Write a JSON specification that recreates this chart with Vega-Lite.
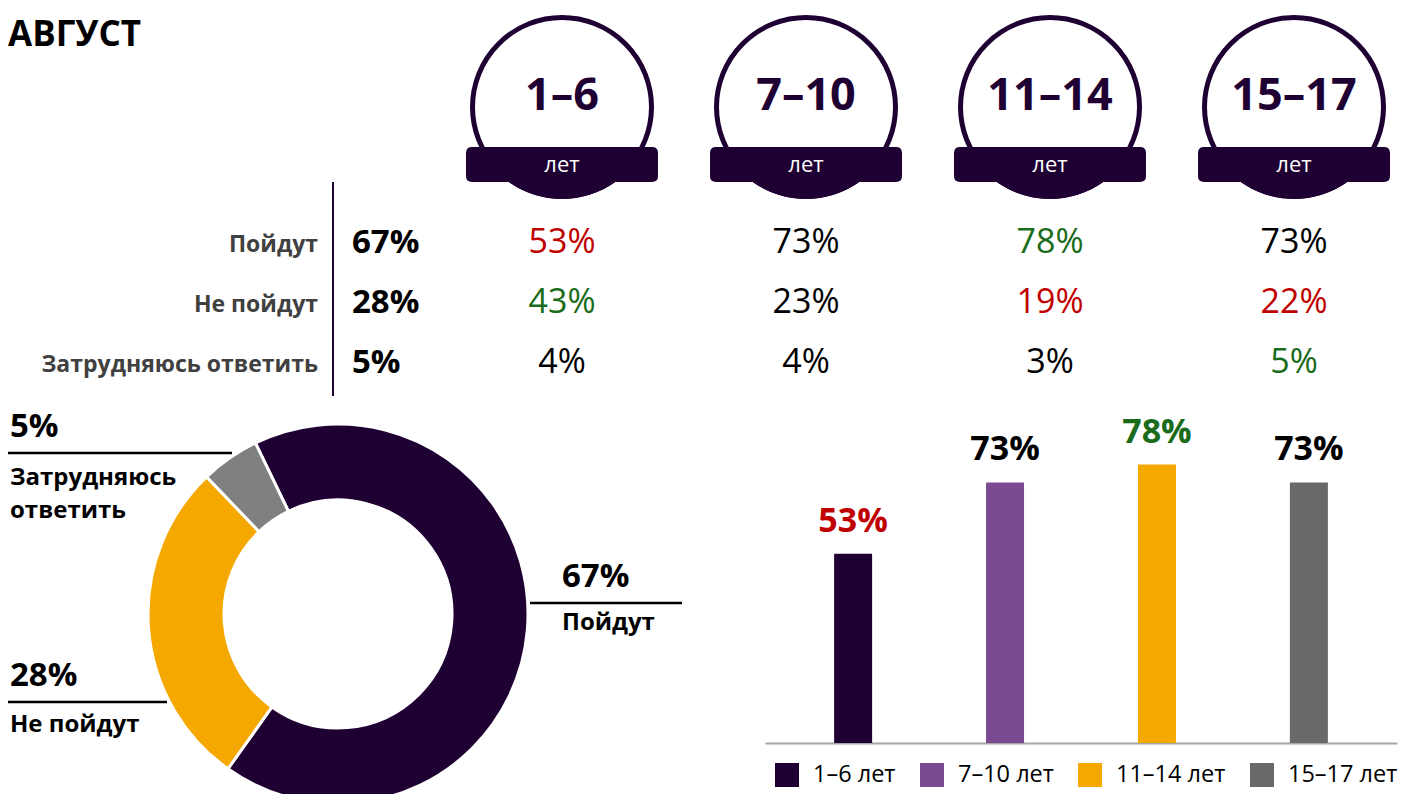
{
  "$schema": "https://vega.github.io/schema/vega-lite/v6.json",
  "padding": 0,
  "background": "white",
  "bounds": "flush",
  "spacing": 0,
  "title": {"text": "АВГУСТ", "anchor": "start", "frame": "group", "offset": -53, "dx": 8, "fontSize": 35, "font": "Open Sans", "fontWeight": "bold", "color": "#000000"},
  "config": {"view": {"stroke": null}, "font": "Open Sans", "text": {"font": "Open Sans"}},
  "resolve": {"scale": {"color": "independent"}},
  "datasets": {
    "survey": [
      {"group": "Всего", "answer": "Пойдут", "share": 0.67, "flag": "норма"},
      {"group": "Всего", "answer": "Не пойдут", "share": 0.28, "flag": "норма"},
      {"group": "Всего", "answer": "Затрудняюсь ответить", "share": 0.05, "flag": "норма"},
      {"group": "1–6", "answer": "Пойдут", "share": 0.53, "flag": "ниже"},
      {"group": "1–6", "answer": "Не пойдут", "share": 0.43, "flag": "выше"},
      {"group": "1–6", "answer": "Затрудняюсь ответить", "share": 0.04, "flag": "норма"},
      {"group": "7–10", "answer": "Пойдут", "share": 0.73, "flag": "норма"},
      {"group": "7–10", "answer": "Не пойдут", "share": 0.23, "flag": "норма"},
      {"group": "7–10", "answer": "Затрудняюсь ответить", "share": 0.04, "flag": "норма"},
      {"group": "11–14", "answer": "Пойдут", "share": 0.78, "flag": "выше"},
      {"group": "11–14", "answer": "Не пойдут", "share": 0.19, "flag": "ниже"},
      {"group": "11–14", "answer": "Затрудняюсь ответить", "share": 0.03, "flag": "норма"},
      {"group": "15–17", "answer": "Пойдут", "share": 0.73, "flag": "норма"},
      {"group": "15–17", "answer": "Не пойдут", "share": 0.22, "flag": "ниже"},
      {"group": "15–17", "answer": "Затрудняюсь ответить", "share": 0.05, "flag": "выше"}
    ]
  },
  "vconcat": [
    {
      "width": 1402,
      "height": 395,
      "data": {"name": "survey"},
      "encoding": {
        "x": {"field": "group", "type": "nominal", "scale": {"type": "point", "domain": ["Всего", "1–6", "7–10", "11–14", "15–17"], "range": [318, 1294], "padding": 0}, "axis": null},
        "y": {"field": "answer", "type": "nominal", "scale": {"type": "point", "domain": ["круг", "лет", "Пойдут", "Не пойдут", "Затрудняюсь ответить"], "range": [133, 373], "padding": 0}, "axis": null}
      },
      "layer": [
        {
          "transform": [{"filter": "datum.group !== 'Всего' && datum.answer === 'Пойдут'"}],
          "mark": {"type": "point", "shape": "circle", "filled": true, "fill": "#ffffff", "stroke": "#1f0033", "strokeWidth": 5, "size": 32041, "opacity": 1, "yOffset": -26},
          "encoding": {"y": {"datum": "круг", "type": "nominal"}}
        },
        {
          "transform": [{"filter": "datum.group !== 'Всего' && datum.answer === 'Пойдут'"}],
          "mark": {"type": "point", "shape": "M-1,-0.12 Q-1,-0.1823 -0.9375,-0.1823 L0.9375,-0.1823 Q1,-0.1823 1,-0.12 L1,0.12 Q1,0.1823 0.9375,0.1823 L0.5544,0.1823 A0.958,0.958 0 0 1 -0.5544,0.1823 L-0.9375,0.1823 Q-1,0.1823 -1,0.12 Z", "filled": true, "color": "#1f0033", "strokeWidth": 0, "size": 36864, "opacity": 1, "yOffset": -28.5},
          "encoding": {"y": {"datum": "лет", "type": "nominal"}}
        },
        {
          "transform": [{"filter": "datum.group !== 'Всего' && datum.answer === 'Пойдут'"}],
          "mark": {"type": "text", "fontSize": 45, "fontWeight": "bold", "color": "#1f0033", "baseline": "alphabetic", "align": "center", "dy": -23},
          "encoding": {"y": {"datum": "круг", "type": "nominal"}, "text": {"field": "group", "type": "nominal"}}
        },
        {
          "transform": [{"filter": "datum.group !== 'Всего' && datum.answer === 'Пойдут'"}],
          "mark": {"type": "text", "fontSize": 22, "color": "#ffffff", "baseline": "alphabetic", "align": "center", "dy": -21},
          "encoding": {"y": {"datum": "лет", "type": "nominal"}, "text": {"value": "лет"}}
        },
        {
          "transform": [{"filter": "datum.group === 'Всего' && datum.answer === 'Пойдут'"}],
          "mark": {"type": "rule", "color": "#1f0033", "strokeWidth": 2, "xOffset": 15, "yOffset": -11, "y2Offset": 23},
          "encoding": {"y": {"datum": "лет", "type": "nominal"}, "y2": {"datum": "Затрудняюсь ответить"}}
        },
        {
          "transform": [{"filter": "datum.group === 'Всего'"}],
          "mark": {"type": "text", "fontSize": 23, "fontWeight": "bold", "color": "#404040", "baseline": "alphabetic", "align": "right", "dy": -1},
          "encoding": {"text": {"field": "answer", "type": "nominal"}}
        },
        {
          "transform": [{"filter": "datum.group === 'Всего'"}],
          "mark": {"type": "text", "fontSize": 33, "fontWeight": "bold", "color": "#000000", "baseline": "alphabetic", "align": "left", "dx": 34},
          "encoding": {"text": {"field": "share", "type": "quantitative", "format": ".0%"}}
        },
        {
          "transform": [{"filter": "datum.group !== 'Всего'"}],
          "mark": {"type": "text", "fontSize": 34, "baseline": "alphabetic", "align": "center"},
          "encoding": {
            "text": {"field": "share", "type": "quantitative", "format": ".0%"},
            "color": {"field": "flag", "type": "nominal", "scale": {"domain": ["ниже", "норма", "выше"], "range": ["#c00000", "#000000", "#1a6b1a"]}, "legend": null}
          }
        }
      ]
    },
    {
      "hconcat": [
        {
          "width": 676,
          "height": 438,
          "data": {"name": "survey"},
          "transform": [{"filter": "datum.group === 'Всего'"}],
          "layer": [
            {
              "mark": {"type": "arc", "outerRadius": 190, "innerRadius": 114, "stroke": "#ffffff", "strokeWidth": 3},
              "encoding": {
                "theta": {"field": "share", "type": "quantitative", "stack": true, "scale": {"range": [-0.45, 5.8332]}},
                "order": {"field": "share", "type": "quantitative", "sort": "descending"},
                "color": {"field": "answer", "type": "nominal", "scale": {"domain": ["Пойдут", "Не пойдут", "Затрудняюсь ответить"], "range": ["#1f0033", "#f5a800", "#808080"]}, "legend": null}
              }
            },
            {
              "transform": [{"filter": "datum.answer === 'Затрудняюсь ответить'"}],
              "mark": {"type": "rule", "color": "#000000", "strokeWidth": 2.5, "x2Offset": 224},
              "encoding": {
                "x": {"field": "share", "type": "quantitative", "scale": {"domain": [0.05, 0.28, 0.67], "range": [8, 8, 530], "zero": false, "nice": false}, "axis": null},
                "x2": {"field": "share"},
                "y": {"field": "share", "type": "quantitative", "scale": {"domain": [0.05, 0.28, 0.67], "range": [58, 307, 208], "zero": false, "nice": false}, "axis": null}
              }
            },
            {
              "transform": [{"filter": "datum.answer === 'Не пойдут'"}],
              "mark": {"type": "rule", "color": "#000000", "strokeWidth": 2.5, "x2Offset": 159},
              "encoding": {
                "x": {"field": "share", "type": "quantitative"},
                "x2": {"field": "share"},
                "y": {"field": "share", "type": "quantitative"}
              }
            },
            {
              "transform": [{"filter": "datum.answer === 'Пойдут'"}],
              "mark": {"type": "rule", "color": "#000000", "strokeWidth": 2.5, "x2Offset": 152},
              "encoding": {
                "x": {"field": "share", "type": "quantitative"},
                "x2": {"field": "share"},
                "y": {"field": "share", "type": "quantitative"}
              }
            },
            {
              "transform": [{"filter": "datum.answer !== 'Пойдут'"}],
              "mark": {"type": "text", "fontSize": 33, "fontWeight": "bold", "color": "#000000", "align": "left", "baseline": "alphabetic", "dx": 2, "dy": -16},
              "encoding": {
                "x": {"field": "share", "type": "quantitative"},
                "y": {"field": "share", "type": "quantitative"},
                "text": {"field": "share", "type": "quantitative", "format": ".0%"}
              }
            },
            {
              "transform": [{"filter": "datum.answer === 'Пойдут'"}],
              "mark": {"type": "text", "fontSize": 33, "fontWeight": "bold", "color": "#000000", "align": "left", "baseline": "alphabetic", "dx": 32, "dy": -16},
              "encoding": {
                "x": {"field": "share", "type": "quantitative"},
                "y": {"field": "share", "type": "quantitative"},
                "text": {"field": "share", "type": "quantitative", "format": ".0%"}
              }
            },
            {
              "transform": [{"filter": "datum.answer === 'Затрудняюсь ответить'"}],
              "mark": {"type": "text", "fontSize": 24, "fontWeight": "bold", "color": "#000000", "align": "left", "baseline": "alphabetic", "dx": 2, "dy": 32, "lineBreak": " ", "lineHeight": 33},
              "encoding": {
                "x": {"field": "share", "type": "quantitative"},
                "y": {"field": "share", "type": "quantitative"},
                "text": {"field": "answer", "type": "nominal"}
              }
            },
            {
              "transform": [{"filter": "datum.answer === 'Не пойдут'"}],
              "mark": {"type": "text", "fontSize": 24, "fontWeight": "bold", "color": "#000000", "align": "left", "baseline": "alphabetic", "dx": 2, "dy": 30},
              "encoding": {
                "x": {"field": "share", "type": "quantitative"},
                "y": {"field": "share", "type": "quantitative"},
                "text": {"field": "answer", "type": "nominal"}
              }
            },
            {
              "transform": [{"filter": "datum.answer === 'Пойдут'"}],
              "mark": {"type": "text", "fontSize": 24, "fontWeight": "bold", "color": "#000000", "align": "left", "baseline": "alphabetic", "dx": 32, "dy": 27},
              "encoding": {
                "x": {"field": "share", "type": "quantitative"},
                "y": {"field": "share", "type": "quantitative"},
                "text": {"field": "answer", "type": "nominal"}
              }
            }
          ]
        },
        {
          "width": 632,
          "height": 348,
          "data": {"name": "survey"},
          "transform": [{"filter": "datum.group !== 'Всего' && datum.answer === 'Пойдут'"}],
          "encoding": {
            "x": {"field": "group", "type": "nominal", "sort": ["1–6", "7–10", "11–14", "15–17"], "scale": {"paddingInner": 0, "paddingOuter": 0.08}, "axis": {"title": null, "labels": false, "ticks": false, "grid": false, "domain": true, "domainColor": "#a6a6a6", "domainWidth": 2}},
            "y": {"field": "share", "type": "quantitative", "scale": {"domain": [0, 0.975]}, "axis": null}
          },
          "layer": [
            {
              "mark": {"type": "bar", "width": 38},
              "encoding": {
                "color": {"field": "group", "type": "nominal", "scale": {"domain": ["1–6", "7–10", "11–14", "15–17"], "range": ["#1f0033", "#7b4a93", "#f5a800", "#696969"]},
                  "legend": {"orient": "bottom", "direction": "horizontal", "title": null, "symbolType": "square", "symbolSize": 576, "symbolStrokeWidth": 0, "labelFontSize": 23.5, "labelFont": "Open Sans", "labelColor": "#000000", "labelOffset": 14, "columnPadding": 24, "labelExpr": "datum.label + ' лет'", "offset": 10, "padding": 10}}
              }
            },
            {
              "mark": {"type": "text", "fontSize": 34, "fontWeight": "bold", "baseline": "alphabetic", "align": "center", "dy": -22},
              "encoding": {
                "text": {"field": "share", "type": "quantitative", "format": ".0%"},
                "color": {"field": "flag", "type": "nominal", "scale": {"domain": ["ниже", "норма", "выше"], "range": ["#c00000", "#000000", "#1a6b1a"]}, "legend": null}
              }
            }
          ],
          "resolve": {"scale": {"color": "independent"}}
        }
      ],
      "spacing": 89,
      "bounds": "flush",
      "resolve": {"scale": {"color": "independent"}}
    }
  ]
}
